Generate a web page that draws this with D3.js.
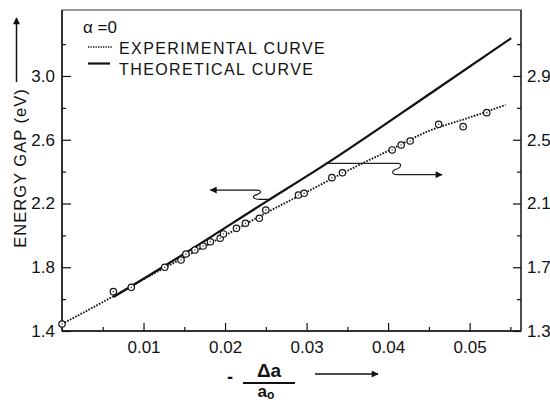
<!DOCTYPE html>
<html>
<head>
<meta charset="utf-8">
<script src="https://cdn.jsdelivr.net/npm/d3@7"></script>
<style>
	body { margin: 0; background: #fff; }
	text { font-family: "Liberation Sans", Arial, sans-serif; fill: #111; }
</style>
</head>
<body>
<script>
// tick values
const xTicks = [0.01, 0.02, 0.03, 0.04, 0.05];
const leftTicks = [1.4, 1.8, 2.2, 2.6, 3.0];
const rightTicks = [1.3, 1.7, 2.1, 2.5, 2.9];

// measured points (circles)
const expX = [0, 0.0063, 0.0085, 0.0126, 0.0146, 0.0152, 0.0163, 0.0173, 0.0182, 0.0194, 0.0198,
	0.0214, 0.0225, 0.0242, 0.0250, 0.0290, 0.0297, 0.0331, 0.0344, 0.0405, 0.0416, 0.0427,
	0.0462, 0.0492, 0.0521];
const expE = [1.444, 1.647, 1.674, 1.800, 1.845, 1.883, 1.908, 1.933, 1.960, 1.982, 2.009,
	2.044, 2.076, 2.107, 2.159, 2.253, 2.264, 2.362, 2.393, 2.536, 2.567, 2.592,
	2.697, 2.682, 2.770];

// experimental curve (dotted)
const curveX = [0, 0.0063, 0.010, 0.015, 0.020, 0.025, 0.030, 0.035, 0.040, 0.045, 0.050, 0.0544];
const curveE = [1.444, 1.618, 1.725, 1.862, 2.000, 2.140, 2.272, 2.405, 2.530, 2.655, 2.740, 2.818];

// theoretical curve (solid)
const theoX = [0.0063, 0.015, 0.025, 0.0323, 0.0458, 0.0551];
const theoE = [1.613, 1.885, 2.210, 2.445, 2.912, 3.237];

const margin = { top: 10, right: 29, bottom: 73, left: 62 },
	W = 550, H = 404,
	width = W - margin.left - margin.right,
	height = H - margin.top - margin.bottom;

let svg = d3.select('body').append('svg')
	.attr('width', W)
	.attr('height', H);

let g = svg.append('g')
	.attr('transform', 'translate(' + margin.left + ',' + margin.top + ')');

let x = d3.scaleLinear().domain([0, 0.0563]).range([0, width]);
let y = d3.scaleLinear().domain([1.4, 3.414]).range([height, 0]);
let yR = d3.scaleLinear().domain([1.3, 3.314]).range([height, 0]);

// frame
g.append('rect')
	.attr('width', width).attr('height', height)
	.attr('fill', 'none').attr('stroke', '#555').attr('stroke-width', 1.2);
g.append('line').attr('x1', 0).attr('x2', width).attr('y1', height).attr('y2', height)
	.attr('stroke', '#111').attr('stroke-width', 1.5);
g.append('line').attr('x1', 0).attr('x2', 0).attr('y1', 0).attr('y2', height)
	.attr('stroke', '#111').attr('stroke-width', 1.5);
g.append('line').attr('x1', width).attr('x2', width).attr('y1', 0).attr('y2', height)
	.attr('stroke', '#222').attr('stroke-width', 1.3);

// axes (ticks pointing inward)
function styleAxis(sel) {
	sel.select('.domain').remove();
	sel.selectAll('line').attr('stroke', '#111').attr('stroke-width', 1.2);
	sel.selectAll('text').attr('font-size', '17px').attr('fill', '#111')
		.attr('font-family', '"Liberation Sans", Arial, sans-serif');
}

const fmt = d3.format('.2f');
const isMajor = (list, d) => list.some(t => Math.abs(t - d) < 1e-6);

g.append('g').attr('transform', 'translate(0,' + height + ')')
	.call(d3.axisBottom(x).tickValues(d3.range(1, 12).map(i => +(i * 0.005).toFixed(3)))
		.tickSize(-4).tickPadding(10)
		.tickFormat(d => isMajor(xTicks, d) ? fmt(d) : ''))
	.call(styleAxis)
	.call(a => a.selectAll('.tick').filter(d => isMajor(xTicks, d))
		.select('line').attr('y2', -8));

g.append('g')
	.call(d3.axisLeft(y).tickValues(d3.range(0, 10).map(i => +(1.4 + i * 0.2).toFixed(1)))
		.tickSize(-4).tickPadding(7)
		.tickFormat(d => isMajor(leftTicks, d) ? d3.format('.1f')(d) : ''))
	.call(styleAxis)
	.call(a => a.selectAll('.tick').filter(d => isMajor(leftTicks, d))
		.select('line').attr('x2', 9));

g.append('g').attr('transform', 'translate(' + width + ',0)')
	.call(d3.axisRight(yR).tickValues(d3.range(0, 10).map(i => +(1.3 + i * 0.2).toFixed(1)))
		.tickSize(-4).tickPadding(6)
		.tickFormat(d => isMajor(rightTicks, d) ? d3.format('.1f')(d) : ''))
	.call(styleAxis)
	.call(a => a.selectAll('.tick').filter(d => isMajor(rightTicks, d))
		.select('line').attr('x2', -8));

// curves
let line = d3.line().x(d => x(d[0])).y(d => y(d[1]));

g.append('path')
	.datum(d3.zip(theoX, theoE))
	.attr('d', line.curve(d3.curveMonotoneX))
	.attr('fill', 'none').attr('stroke', '#111').attr('stroke-width', 2.2);

g.append('path')
	.datum(d3.zip(curveX, curveE))
	.attr('d', line.curve(d3.curveMonotoneX))
	.attr('fill', 'none').attr('stroke', '#111').attr('stroke-width', 1.9)
	.attr('stroke-dasharray', '1.6,1.4');

g.selectAll('circle.pt')
	.data(d3.zip(expX, expE))
	.enter().append('circle')
	.attr('class', 'pt')
	.attr('cx', d => x(d[0])).attr('cy', d => y(d[1]))
	.attr('r', 3.2)
	.attr('fill', '#fff').attr('stroke', '#111').attr('stroke-width', 1.2);
g.selectAll('circle.dot')
	.data(d3.zip(expX, expE))
	.enter().append('circle')
	.attr('class', 'dot')
	.attr('cx', d => x(d[0])).attr('cy', d => y(d[1]))
	.attr('r', 0.8).attr('fill', '#444');

// arrowhead marker
svg.append('defs').append('marker')
	.attr('id', 'ah').attr('viewBox', '0 0 10 10')
	.attr('refX', 9).attr('refY', 5)
	.attr('markerWidth', 10).attr('markerHeight', 7)
	.attr('markerUnits', 'userSpaceOnUse')
	.attr('orient', 'auto')
	.append('path').attr('d', 'M0,0 L10,5 L0,10 Z').attr('fill', '#111');

// left arrow: from theoretical curve to left axis
{
	let x0 = x(0.0255), y0 = y(2.226), y1 = y(2.284), xb = x(0.0240), xt = x(0.0182);
	let p = d3.path();
	p.moveTo(x0, y0);
	p.lineTo(xb + 2, y0);
	p.bezierCurveTo(xb - 6, y0, xb - 6, y0 - 4, xb, y0 - 5);
	p.bezierCurveTo(xb + 5, y1 + 2, xb + 3, y1, xb - 1, y1);
	p.lineTo(xt, y1);
	g.append('path').attr('d', p.toString())
		.attr('fill', 'none').attr('stroke', '#111').attr('stroke-width', 1.1)
		.attr('marker-end', 'url(#ah)');
}

// right arrow: to right axis
{
	let x0 = x(0.03226), y0 = y(2.452), y1 = y(2.381), xb = x(0.0412), xt = x(0.0466);
	let p = d3.path();
	p.moveTo(x0, y0);
	p.lineTo(xb, y0);
	p.bezierCurveTo(xb + 4, y0, xb + 4, y0 + 4, xb - 2, y0 + 6);
	p.bezierCurveTo(xb - 7, y0 + 8, xb - 6, y1, xb - 1, y1);
	p.lineTo(xt, y1);
	g.append('path').attr('d', p.toString())
		.attr('fill', 'none').attr('stroke', '#222').attr('stroke-width', 1.1)
		.attr('marker-end', 'url(#ah)');
}

// legend
svg.append('text').attr('x', 83).attr('y', 33).attr('font-size', '17px').text('α =0');
svg.append('line').attr('x1', 88).attr('x2', 112).attr('y1', 47).attr('y2', 47)
	.attr('stroke', '#111').attr('stroke-width', 1.4).attr('stroke-dasharray', '1.3,1.2');
svg.append('text').attr('x', 119).attr('y', 54).attr('font-size', '16px')
	.attr('letter-spacing', '1.4px').text('EXPERIMENTAL CURVE');
svg.append('line').attr('x1', 88).attr('x2', 110).attr('y1', 63.5).attr('y2', 63.5)
	.attr('stroke', '#111').attr('stroke-width', 2.2);
svg.append('text').attr('x', 119).attr('y', 75).attr('font-size', '16px')
	.attr('letter-spacing', '1.4px').text('THEORETICAL CURVE');

// y label with arrow
svg.append('text')
	.attr('transform', 'translate(26,168) rotate(-90)')
	.attr('text-anchor', 'middle').attr('font-size', '16.5px').attr('letter-spacing', '1px')
	.text('ENERGY GAP (eV)');
svg.append('line').attr('x1', 16.5).attr('x2', 16.5).attr('y1', 82).attr('y2', 18)
	.attr('stroke', '#111').attr('stroke-width', 1.5).attr('marker-end', 'url(#ah)');

// x label: - Δa / a0 with arrow
svg.append('text').attr('x', 230).attr('y', 383).attr('text-anchor', 'middle')
	.attr('font-size', '18px').attr('font-weight', 'bold').text('-');
svg.append('text').attr('x', 269).attr('y', 377).attr('text-anchor', 'middle')
	.attr('font-size', '19px').attr('font-weight', 'bold').text('Δa');
svg.append('line').attr('x1', 243).attr('x2', 295).attr('y1', 383).attr('y2', 383)
	.attr('stroke', '#111').attr('stroke-width', 1.8);
let den = svg.append('text').attr('x', 266).attr('y', 397).attr('text-anchor', 'middle')
	.attr('font-size', '17px').attr('font-weight', 'bold');
den.append('tspan').text('a');
den.append('tspan').attr('font-size', '12px').attr('dy', 2).text('o');
svg.append('line').attr('x1', 315).attr('x2', 378).attr('y1', 374).attr('y2', 374)
	.attr('stroke', '#111').attr('stroke-width', 1.5).attr('marker-end', 'url(#ah)');
</script>
</body>
</html>
